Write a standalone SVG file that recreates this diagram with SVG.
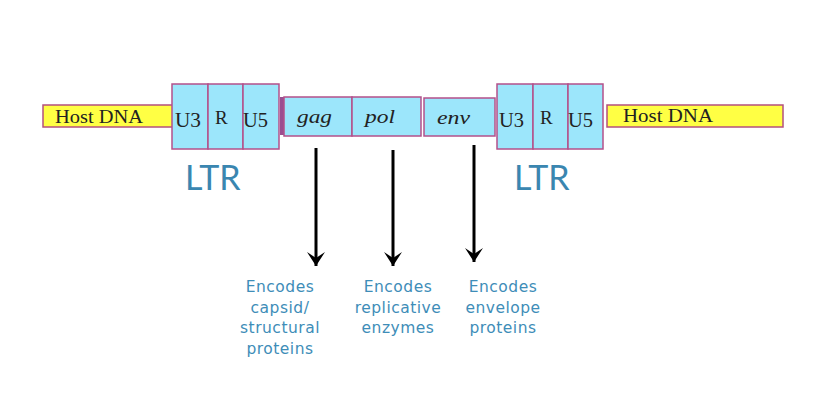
<svg xmlns="http://www.w3.org/2000/svg" width="830" height="418" viewBox="0 0 830 418">
<defs>
<style>
.host{fill:#ffff44;stroke:#b4507e;stroke-width:1.5}
.seg{fill:#9ce6fb;stroke:#b4508a;stroke-width:1.5}
.serif{font-family:"Liberation Serif","DejaVu Serif",serif;fill:#222;}
.ital{font-style:italic;font-size:19px}
.ltr{font-family:Lato,"Open Sans",sans-serif;font-size:34px;fill:#3a86b0}
.lbl{font-family:"DejaVu Sans",Verdana,sans-serif;font-size:15.5px;fill:#3e8db8;text-anchor:middle;letter-spacing:0.5px}
.arr{stroke:#000;stroke-width:3;fill:none}
</style>
<marker id="ah" markerWidth="20" markerHeight="20" viewBox="0 0 20 20" refX="17" refY="10" orient="auto" markerUnits="userSpaceOnUse">
<path d="M3,1 L17,10 L3,19 L9,10 Z" fill="#000"/>
</marker>
</defs>
<rect width="830" height="418" fill="#fff"/>

<g id="host-left">
<rect class="host" x="43" y="105" width="130" height="22"/>
<text class="serif" x="55" y="123" font-size="19" textLength="88" lengthAdjust="spacingAndGlyphs">Host DNA</text>
</g>
<g id="ltr-left">
<rect class="seg" x="172" y="84" width="36" height="65"/>
<rect class="seg" x="208" y="84" width="35" height="65"/>
<rect class="seg" x="243" y="84" width="36" height="65"/>
<text class="serif" x="175" y="127" font-size="20" textLength="26" lengthAdjust="spacingAndGlyphs">U3</text>
<text class="serif" x="215" y="124" font-size="19">R</text>
<text class="serif" x="243" y="127" font-size="20" textLength="25" lengthAdjust="spacingAndGlyphs">U5</text>
<text class="ltr" x="185" y="190">LTR</text>
</g>
<g id="gag-pol">
<rect x="280" y="97" width="4" height="38" fill="#9a4f90"/>
<rect class="seg" x="284" y="97" width="68" height="39"/>
<rect class="seg" x="352" y="97" width="69" height="39"/>
<text class="serif ital" x="297" y="123" textLength="35" lengthAdjust="spacingAndGlyphs">gag</text>
<text class="serif ital" x="365" y="123" textLength="30" lengthAdjust="spacingAndGlyphs">pol</text>
</g>
<g id="env">
<rect class="seg" x="424" y="98" width="71" height="38"/>
<text class="serif ital" x="437" y="124" textLength="33" lengthAdjust="spacingAndGlyphs">env</text>
</g>
<g id="ltr-right">
<rect class="seg" x="497" y="84" width="36" height="65"/>
<rect class="seg" x="533" y="84" width="35" height="65"/>
<rect class="seg" x="568" y="84" width="35" height="65"/>
<text class="serif" x="499" y="127" font-size="20" textLength="25" lengthAdjust="spacingAndGlyphs">U3</text>
<text class="serif" x="540" y="124" font-size="19">R</text>
<text class="serif" x="568" y="127" font-size="20" textLength="25" lengthAdjust="spacingAndGlyphs">U5</text>
<text class="ltr" x="514" y="190">LTR</text>
</g>
<g id="host-right">
<rect class="host" x="607" y="105" width="176" height="22"/>
<text class="serif" x="623" y="122" font-size="19" textLength="90" lengthAdjust="spacingAndGlyphs">Host DNA</text>
</g>

<g id="connectors">
<line class="arr" x1="316" y1="148" x2="316" y2="266" marker-end="url(#ah)"/>
<line class="arr" x1="393" y1="150" x2="393" y2="266" marker-end="url(#ah)"/>
<line class="arr" x1="474" y1="145" x2="474" y2="262" marker-end="url(#ah)"/>
</g>

<g id="label-gag">
<text class="lbl" x="280" y="292">Encodes</text>
<text class="lbl" x="280" y="313">capsid/</text>
<text class="lbl" x="280" y="333">structural</text>
<text class="lbl" x="280" y="354">proteins</text>
</g>
<g id="label-pol">
<text class="lbl" x="398" y="292">Encodes</text>
<text class="lbl" x="398" y="313">replicative</text>
<text class="lbl" x="398" y="333">enzymes</text>
</g>
<g id="label-env">
<text class="lbl" x="503" y="292">Encodes</text>
<text class="lbl" x="503" y="313">envelope</text>
<text class="lbl" x="503" y="333">proteins</text>
</g>
</svg>
